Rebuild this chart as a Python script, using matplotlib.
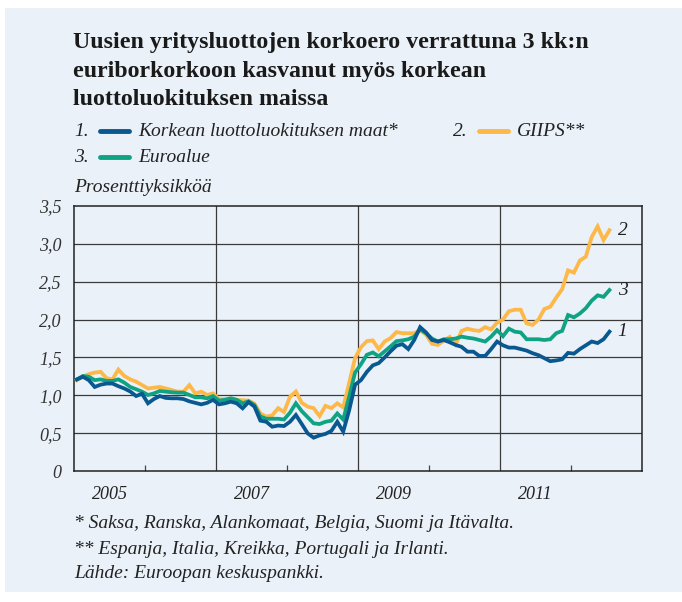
import matplotlib
matplotlib.use("Agg")
import matplotlib.pyplot as plt
from matplotlib.lines import Line2D
from matplotlib.patches import Rectangle
import numpy as np

# monthly values, Jan 2005 - Jul 2012 (percentage points)
high_rating = [
    1.21, 1.245, 1.20, 1.11, 1.14, 1.155, 1.155, 1.12, 1.09, 1.05, 0.99, 1.02,
    0.894, 0.95, 0.99, 0.965, 0.96, 0.96, 0.95, 0.92, 0.90, 0.88, 0.90, 0.94,
    0.88, 0.894, 0.916, 0.894, 0.828, 0.91, 0.85, 0.665, 0.65, 0.585, 0.60, 0.594,
    0.65, 0.74, 0.62, 0.497, 0.44, 0.47, 0.49, 0.53, 0.65, 0.52, 0.80, 1.14,
    1.20, 1.31, 1.395, 1.425, 1.50, 1.58, 1.655, 1.675, 1.61, 1.73, 1.90, 1.83,
    1.73, 1.71, 1.73, 1.70, 1.665, 1.64, 1.576, 1.576, 1.52, 1.52, 1.61, 1.71,
    1.66, 1.63, 1.63, 1.61, 1.59, 1.556, 1.53, 1.49, 1.45, 1.46, 1.475, 1.56,
    1.55, 1.61, 1.66, 1.71, 1.69, 1.74, 1.84,
]
giips = [
    1.20, 1.245, 1.28, 1.30, 1.31, 1.225, 1.21, 1.34, 1.255, 1.21, 1.18, 1.135,
    1.09, 1.10, 1.11, 1.09, 1.07, 1.048, 1.048, 1.135, 1.025, 1.048, 1.004, 1.025,
    0.947, 0.947, 0.96, 0.94, 0.935, 0.93, 0.89, 0.76, 0.718, 0.735, 0.83, 0.78,
    0.98, 1.05, 0.90, 0.85, 0.83, 0.726, 0.86, 0.83, 0.894, 0.84, 1.16, 1.49,
    1.635, 1.715, 1.725, 1.61, 1.71, 1.755, 1.835, 1.82, 1.82, 1.82, 1.86, 1.80,
    1.68, 1.665, 1.72, 1.77, 1.67, 1.85, 1.88, 1.86, 1.85, 1.90, 1.87, 1.96,
    2.00, 2.11, 2.13, 2.13, 1.95, 1.93, 2.00, 2.14, 2.17, 2.29, 2.40, 2.65,
    2.62, 2.78, 2.83, 3.09, 3.23, 3.05, 3.18,
]
euro_area = [
    1.21, 1.255, 1.245, 1.20, 1.21, 1.19, 1.19, 1.21, 1.167, 1.11, 1.08, 1.048,
    1.004, 1.025, 1.057, 1.048, 1.04, 1.035, 1.035, 1.004, 0.973, 0.973, 0.96, 0.99,
    0.93, 0.94, 0.96, 0.94, 0.894, 0.92, 0.87, 0.72, 0.69, 0.69, 0.69, 0.68,
    0.77, 0.894, 0.79, 0.71, 0.63, 0.62, 0.65, 0.665, 0.76, 0.68, 0.98, 1.30,
    1.41, 1.535, 1.565, 1.515, 1.58, 1.645, 1.715, 1.725, 1.74, 1.775, 1.87, 1.82,
    1.75, 1.71, 1.74, 1.74, 1.75, 1.775, 1.76, 1.75, 1.73, 1.71, 1.775, 1.86,
    1.78, 1.88, 1.84, 1.83, 1.74, 1.74, 1.74, 1.73, 1.74, 1.82, 1.85, 2.06,
    2.03, 2.08, 2.15, 2.25, 2.32, 2.30, 2.39,
]
year_labels = ["2005", "2007", "2009", "2011"]
y_ticks = [0, 0.5, 1.0, 1.5, 2.0, 2.5, 3.0, 3.5]
y_labels = ["0", "0,5", "1,0", "1,5", "2,0", "2,5", "3,0", "3,5"]

BLUE = "#0a5890"
ORANGE = "#fdb848"
GREEN = "#0fa283"
BG = "#eaf1f8"
SERIF = "Liberation Serif"

months = np.arange(len(high_rating))
x = 2005 + (months + 0.5) / 12

W, H = 682, 602
fig = plt.figure(figsize=(W / 100, H / 100), dpi=100)
fig.patch.set_facecolor("white")
fig.add_artist(Rectangle((5 / W, 10 / H), 1 - 5 / W, (592 - 8) / H,
                         transform=fig.transFigure, facecolor=BG, edgecolor="none", zorder=-10))

def fx(px):
    return px / W

def fy(py):
    return 1 - py / H

ax = fig.add_axes([fx(74), fy(471), (642 - 74) / W, (471 - 206) / H])
ax.set_facecolor(BG)

ax.plot(x, giips, color=ORANGE, lw=2.7, solid_joinstyle="miter", zorder=3)
ax.plot(x, euro_area, color=GREEN, lw=2.7, solid_joinstyle="miter", zorder=4)
ax.plot(x, high_rating, color=BLUE, lw=2.7, solid_joinstyle="miter", zorder=5)

# end labels
for vals, lab in [(giips, "2"), (euro_area, "3"), (high_rating, "1")]:
    ax.annotate(lab, (x[-1], vals[-1]), xytext=(6, 0), textcoords="offset points",
                va="center", ha="left", fontsize=14, fontstyle="italic", family=SERIF,
                color="#222222")

ax.set_xlim(2005, 2013)
ax.set_ylim(0, 3.5)
ax.set_yticks(y_ticks)
ax.set_yticklabels(y_labels, fontsize=13, fontstyle="italic", family=SERIF, color="#333333")
ax.tick_params(axis="y", length=0, pad=9)

ax.set_xticks([2005.5, 2007.5, 2009.5, 2011.5])
ax.set_xticklabels(year_labels, fontsize=13, fontstyle="italic", family=SERIF, color="#222222")
ax.tick_params(axis="x", length=0, pad=11)
ax.set_xticks([2006, 2008, 2010, 2012], minor=True)
ax.tick_params(axis="x", which="minor", direction="in", length=4, width=0.9, color="#444444")

for yv in y_ticks[1:-1]:
    ax.axhline(yv, color="#3a3a3a", lw=0.9, zorder=1)
for xv in [2007, 2009, 2011]:
    ax.axvline(xv, color="#3a3a3a", lw=0.9, zorder=1)
for s in ax.spines.values():
    s.set_color("#222222")
    s.set_linewidth(1.1)

# title
title_lines = ["Uusien yritysluottojen korkoero verrattuna 3 kk:n",
               "euriborkorkoon kasvanut myös korkean",
               "luottoluokituksen maissa"]
for i, t in enumerate(title_lines):
    fig.text(fx(73), fy(48 + i * 28.5), t, fontsize=17.2, fontweight="bold", family=SERIF,
             color="#1a1a1a", va="baseline")

# legend
ital = dict(fontsize=14, fontstyle="italic", family=SERIF, color="#222222", va="center")
legend_items = [(74, 131, "1.", BLUE, "Korkean luottoluokituksen maat*"),
                (453, 131, "2.", ORANGE, "GIIPS**"),
                (74, 157, "3.", GREEN, "Euroalue")]
for px, py, num, col, lab in legend_items:
    fig.text(fx(px), fy(py), num, **ital)
    fig.add_artist(Line2D([fx(px + 26), fx(px + 55)], [fy(py), fy(py)], color=col, lw=3.5,
                          solid_capstyle="round", transform=fig.transFigure))
    fig.text(fx(px + 64), fy(py), lab, **ital)

fig.text(fx(74), fy(188), "Prosenttiyksikköä", **ital)

notes = ["* Saksa, Ranska, Alankomaat, Belgia, Suomi ja Itävalta.",
         "** Espanja, Italia, Kreikka, Portugali ja Irlanti.",
         "Lähde: Euroopan keskuspankki."]
for i, t in enumerate(notes):
    fig.text(fx(74), fy(524 + i * 25), t, **ital)

fig.savefig("out.png", dpi=100, facecolor="white")
